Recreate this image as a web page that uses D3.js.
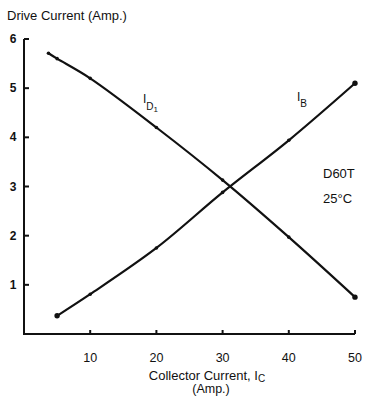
<!DOCTYPE html>
<html>
<head>
<meta charset="utf-8">
<script src="https://cdn.jsdelivr.net/npm/d3@7"></script>
<style>
  body { margin: 0; background: #fff; }
  svg { display: block; }
  text { font-family: "Liberation Sans", Arial, sans-serif; fill: #111; }
</style>
</head>
<body>
<svg id="chart" width="365" height="397"></svg>
<script>
// collector current (A) and drive currents
const ibX = [5, 10, 20, 30, 40, 50];
const ibY = [0.37, 0.81, 1.75, 2.88, 3.94, 5.1];
const idX = [3.7, 5, 10, 20, 30, 40, 50];
const idY = [5.71, 5.6, 5.2, 4.2, 3.13, 1.97, 0.75];
const xTicks = [10, 20, 30, 40, 50];
const yTicks = [1, 2, 3, 4, 5, 6];

let svg = d3.select("#chart");

let x = d3.scaleLinear().domain([0, 50]).range([24, 355]);
let y = d3.scaleLinear().domain([0, 6]).range([334, 39]);

// axes
let axisG = svg.append("g")
    .attr("stroke", "#111")
    .attr("stroke-width", 2)
    .attr("fill", "none");

axisG.append("path")
    .attr("d", "M" + x(0) + "," + y(6) + "V" + y(0) + "H" + x(50));

axisG.selectAll("line.yt")
    .data(yTicks)
    .enter().append("line")
    .attr("x1", x(0)).attr("x2", x(0) + 5)
    .attr("y1", d => y(d)).attr("y2", d => y(d));

axisG.selectAll("line.xt")
    .data(xTicks)
    .enter().append("line")
    .attr("x1", d => x(d)).attr("x2", d => x(d))
    .attr("y1", y(0)).attr("y2", y(0) - 4);

svg.selectAll("text.ylab")
    .data(yTicks)
    .enter().append("text")
    .attr("x", 13)
    .attr("y", d => y(d) + 4)
    .attr("text-anchor", "middle")
    .attr("font-size", 12)
    .attr("font-weight", "bold")
    .text(d => d);

svg.selectAll("text.xlab")
    .data(xTicks)
    .enter().append("text")
    .attr("x", d => x(d))
    .attr("y", 362)
    .attr("text-anchor", "middle")
    .attr("font-size", 12.5)
    .text(d => d);

// titles
svg.append("text")
    .attr("x", 7).attr("y", 20)
    .attr("font-size", 13)
    .text("Drive Current (Amp.)");

let xt = svg.append("text")
    .attr("x", 207).attr("y", 380)
    .attr("text-anchor", "middle")
    .attr("font-size", 13);
xt.append("tspan").text("Collector Current, I");
xt.append("tspan").attr("font-size", 10).attr("dy", 2).text("C");

svg.append("text")
    .attr("x", 211).attr("y", 393)
    .attr("text-anchor", "middle")
    .attr("font-size", 12.5)
    .text("(Amp.)");

// curves
let line = d3.line()
    .x(d => x(d[0]))
    .y(d => y(d[1]))
    .curve(d3.curveCatmullRom);

let series = [
    { xs: ibX, ys: ibY },
    { xs: idX, ys: idY }
];

series.forEach(s => {
    let pts = s.xs.map((v, i) => [v, s.ys[i]]);
    let last = pts.length - 1;
    svg.append("path")
        .datum(pts)
        .attr("fill", "none")
        .attr("stroke", "#111")
        .attr("stroke-width", 2.2)
        .attr("d", line);

    svg.selectAll(null)
        .data(pts)
        .enter().append("circle")
        .attr("cx", d => x(d[0]))
        .attr("cy", d => y(d[1]))
        .attr("r", (d, i) => (i == 0 && s.xs[0] == 5) || i == last ? 2.7 : 1.8)
        .attr("fill", "#111");
});

// curve labels
let lid = svg.append("text").attr("x", 143).attr("y", 103).attr("font-size", 12);
lid.append("tspan").text("I");
lid.append("tspan").attr("font-size", 10).attr("dy", 7).text("D");
lid.append("tspan").attr("font-size", 8).attr("dy", 2).text("1");

let lib = svg.append("text").attr("x", 297).attr("y", 101).attr("font-size", 12);
lib.append("tspan").text("I");
lib.append("tspan").attr("font-size", 10).attr("dy", 6).text("B");

svg.append("text")
    .attr("x", 323).attr("y", 178)
    .attr("font-size", 13)
    .text("D60T");

svg.append("text")
    .attr("x", 323).attr("y", 203)
    .attr("font-size", 13)
    .text("25°C");
</script>
</body>
</html>
